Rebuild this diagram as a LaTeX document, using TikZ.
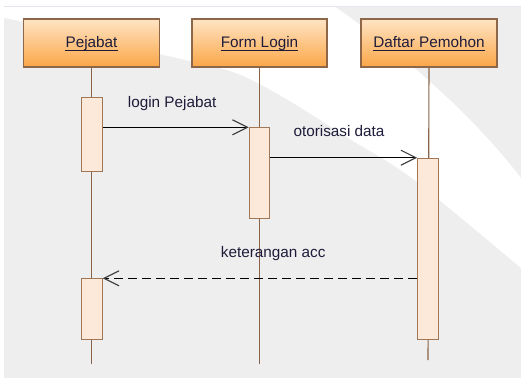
\documentclass[tikz,border=0pt]{standalone}
\usepackage{fontspec}
\setmainfont{Liberation Sans}
\usetikzlibrary{arrows.meta}

\definecolor{bggray}{HTML}{EEEEEE}
\definecolor{topline}{HTML}{E6E6EE}
\definecolor{headtop}{HTML}{FEE4C4}
\definecolor{headbot}{HTML}{FBA647}
\definecolor{boxline}{HTML}{8E6648}
\definecolor{actfill}{HTML}{FDE9DA}
\definecolor{actline}{HTML}{A07858}
\definecolor{lifeline}{HTML}{8A6448}
\definecolor{ink}{HTML}{1E1C3A}
\definecolor{barb}{HTML}{3A3A3A}

\tikzset{
  head/.style={draw=boxline, line width=1.1pt, top color=headtop, bottom color=headbot,
    minimum height=48, inner sep=0},
  title/.style={text=ink, font=\fontsize{15.3}{18}\selectfont, inner sep=0, anchor=base},
  uline/.style={draw=ink, line width=1pt},
  life/.style={draw=lifeline, line width=1.1pt},
  act/.style={draw=actline, fill=actfill, line width=1.1pt, minimum width=20.6, inner sep=0, anchor=north},
  msg/.style={line width=1.2pt, draw=black,
    -{Straight Barb[length=15pt, width=15pt, line width=1.1pt, color=barb]}},
  reply/.style={msg, dash pattern=on 9pt off 5pt},
  label/.style={text=ink, font=\fontsize{15.3}{18}\selectfont, inner sep=0, anchor=base west},
}

\begin{document}
\begin{tikzpicture}[x=1pt, y=-1pt]
\useasboundingbox (0,0) rectangle (521,381);

% backdrop: grey sheet crossed by a white sweep
\fill[white] (0,0) rectangle (521,381);
\fill[bggray] (4,6) rectangle (521,378);
\fill[white] (4,6) -- (334,6) .. controls (400,52) and (470,112) .. (521,178) -- (521,268)
  -- plot[smooth] coordinates {(521,268) (413,179) (350,139) (283,97) (233,72) (160,54) (80,33) (4,18)}
  -- cycle;
\draw[topline, line width=1pt] (4,6) -- (521,6);

% lifeline heads
\node[head, minimum width=136] (pj) at (91.5,43) {};
\node[head, minimum width=135] (fl) at (259.5,43) {};
\node[head, minimum width=136] (dp) at (429,43) {};

\node[title] (tpj) at (91.5,47.5) {Pejabat};
\node[title] (tfl) at (259.5,47.5) {Form Login};
\node[title] (tdp) at (429,47.5) {Daftar Pemohon};
\foreach \t in {tpj,tfl,tdp}
  \draw[uline] ([yshift=-2.6pt]\t.base west) -- ([yshift=-2.6pt]\t.base east);

% lifelines
\coordinate (pjend) at (91.5,364);
\coordinate (flend) at (259.5,364);
\coordinate (dpend) at (428,360);
\draw[life] (pj.south) -- (pjend);
\draw[life] (fl.south) -- (flend);
\draw[life] (dp.south) -- (dpend);

% activation bars
\node[act, minimum height=73.7]  (a1) at (92,97.3) {};
\node[act, minimum height=90.7]  (b1) at (259.5,127.3) {};
\node[act, minimum height=181.3] (c1) at (428,157.7) {};
\node[act, minimum height=60.7]  (a2) at (92,278.3) {};

% messages
\draw[msg] (a1.east |- b1.north west) -- (b1.north west);
\draw[msg] (b1.east |- c1.north west) -- (c1.north west);
\draw[reply] (c1.west |- a2.north east) -- (a2.north east);

\node[label] (m1) at (127.7,107.3) {login Pejabat};
\node[label] (m2) at (293.3,136.7) {otorisasi data};
\node[label] (m3) at (220.7,257.3) {keterangan acc};
\end{tikzpicture}
\end{document}
